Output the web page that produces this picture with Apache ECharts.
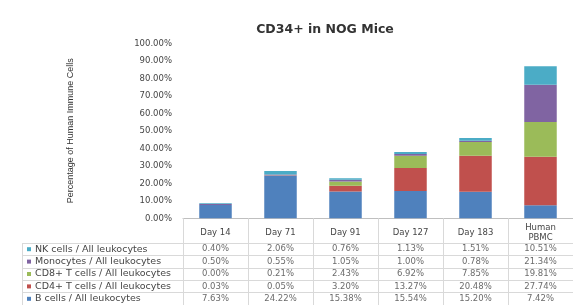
<!DOCTYPE html>
<html>
<head>
<meta charset="utf-8">
<script src="https://cdn.jsdelivr.net/npm/echarts@6/dist/echarts.min.js"></script>
<style>
  html, body { margin: 0; padding: 0; background: #fff; }
  #chart { width: 573px; height: 305px; }
</style>
</head>
<body>
<div id="chart"></div>
<script>
// categories (columns of the data table)
const days = ['Day 14', 'Day 71', 'Day 91', 'Day 127', 'Day 183', 'Human\nPBMC']

const bCells    = [7.63, 24.22, 15.38, 15.54, 15.20, 7.42]
const cd4Cells  = [0.03, 0.05, 3.20, 13.27, 20.48, 27.74]
const cd8Cells  = [0.00, 0.21, 2.43, 6.92, 7.85, 19.81]
const monocytes = [0.50, 0.55, 1.05, 1.00, 0.78, 21.34]
const nkCells   = [0.40, 2.06, 0.76, 1.13, 1.51, 10.51]

const yTicks = [0, 10, 20, 30, 40, 50, 60, 70, 80, 90, 100]

const seriesDefs = [
  { name: 'B cells / All leukocytes', data: bCells, color: '#4f81bd' },
  { name: 'CD4+ T cells / All leukocytes', data: cd4Cells, color: '#c0504d' },
  { name: 'CD8+ T cells / All leukocytes', data: cd8Cells, color: '#9bbb59' },
  { name: 'Monocytes / All leukocytes', data: monocytes, color: '#8064a2' },
  { name: 'NK cells / All leukocytes', data: nkCells, color: '#4bacc6' }
]
// table rows, top to bottom
const rows = seriesDefs.slice().reverse()

const font = 'DejaVu Sans'
const lineCol = '#d9d9d9'
const textCol = '#454545'

const chart = echarts.init(document.getElementById('chart'))

let cells = []
rows.forEach((r, ri) => {
  r.data.forEach((v, ci) => cells.push([ci, ri, v]))
})

const rich = {}
rows.forEach((r, i) => {
  rich['s' + i] = { backgroundColor: r.color, width: 4, height: 4 }
})
rich.t = { fontSize: 9.5, color: textCol, fontFamily: font, padding: [0, 0, 0, 4] }

const option = {
  animation: false,
  title: {
    text: 'CD34+ in NOG Mice',
    left: 320,
    top: 18,
    textAlign: 'center',
    textStyle: { fontSize: 12.5, fontWeight: 'bold', color: '#333', fontFamily: font }
  },
  grid: [
    { left: 183, top: 43.3, width: 394, height: 175 },
    { left: 183, top: 243, width: 394, height: 62 }
  ],
  xAxis: [
    {
      type: 'category',
      gridIndex: 0,
      data: days,
      axisLine: { lineStyle: { color: '#bfbfbf' } },
      axisTick: { show: true, length: 25, interval: 0, lineStyle: { color: lineCol } },
      axisLabel: {
        interval: 0, margin: 14, verticalAlign: 'middle',
        fontSize: 8.5, lineHeight: 10, color: textCol, fontFamily: font
      }
    },
    {
      type: 'category',
      gridIndex: 1,
      data: days,
      axisLine: { show: false },
      axisTick: { show: false },
      axisLabel: { show: false },
      splitLine: { show: true, interval: 0, lineStyle: { color: lineCol } }
    }
  ],
  yAxis: [
    {
      type: 'value',
      gridIndex: 0,
      min: 0,
      max: 100,
      interval: 10,
      name: 'Percentage of Human Immune Cells',
      nameLocation: 'middle',
      nameGap: 108,
      nameTextStyle: { fontSize: 9, color: '#333', fontFamily: 'Liberation Sans' },
      axisLine: { show: false },
      axisTick: { show: false },
      splitLine: { show: false },
      axisLabel: {
        margin: 11, fontSize: 8.5, color: textCol, fontFamily: font,
        formatter: v => yTicks.includes(v) ? v.toFixed(2) + '%' : ''
      }
    },
    {
      type: 'category',
      gridIndex: 1,
      inverse: true,
      data: rows.map(r => r.name),
      axisLine: { show: true, lineStyle: { color: lineCol } },
      axisTick: { show: true, length: 161, interval: 0, lineStyle: { color: lineCol } },
      splitLine: { show: true, interval: 0, lineStyle: { color: lineCol } },
      axisLabel: {
        interval: 0, align: 'left', margin: 156,
        formatter: (v, i) => '{s' + i + '|}{t|' + v + '}',
        rich: rich
      }
    }
  ],
  graphic: [
    { type: 'line', shape: { x1: 22.5, y1: 243, x2: 22.5, y2: 305 }, style: { stroke: lineCol } }
  ],
  series: seriesDefs.map(s => ({
    name: s.name,
    type: 'bar',
    stack: 'total',
    xAxisIndex: 0,
    yAxisIndex: 0,
    barWidth: '50%',
    itemStyle: { color: s.color },
    data: s.data
  })).concat([{
    type: 'scatter',
    xAxisIndex: 1,
    yAxisIndex: 1,
    symbolSize: 0,
    data: cells,
    label: {
      show: true,
      position: 'inside',
      fontSize: 8.5,
      color: textCol,
      fontFamily: font,
      formatter: p => p.value[2].toFixed(2) + '%'
    }
  }])
}

chart.setOption(option)
</script>
</body>
</html>
